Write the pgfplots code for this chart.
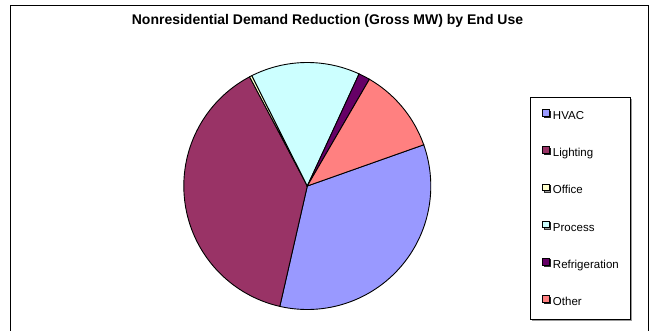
\documentclass[border=0pt]{standalone}
\usepackage{fontspec}
\setmainfont{Liberation Sans}
\usepackage{pgfplots}
\usepackage{pgfplotstable}
\pgfplotsset{compat=1.18}
\usetikzlibrary{shadows}

\definecolor{cHVAC}{HTML}{9999FF}
\definecolor{cLight}{HTML}{993366}
\definecolor{cOffice}{HTML}{FFFFCC}
\definecolor{cProcess}{HTML}{CCFFFF}
\definecolor{cRefrig}{HTML}{660066}
\definecolor{cOther}{HTML}{FF8080}

\pgfplotstableread{
label value
HVAC 34.0
Lighting 38.7
Office 0.33
Process 14.3
Refrigeration 1.5
Other 11.2
}\piedata

\pgfplotstablegetelem{0}{value}\of\piedata\let\vA\pgfplotsretval
\pgfplotstablegetelem{1}{value}\of\piedata\let\vB\pgfplotsretval
\pgfplotstablegetelem{2}{value}\of\piedata\let\vC\pgfplotsretval
\pgfplotstablegetelem{3}{value}\of\piedata\let\vD\pgfplotsretval
\pgfplotstablegetelem{4}{value}\of\piedata\let\vE\pgfplotsretval
\pgfplotstablegetelem{5}{value}\of\piedata\let\vF\pgfplotsretval
\pgfmathsetmacro\tot{\vA+\vB+\vC+\vD+\vE+\vF}
\pgfmathsetmacro\aA{19.5}
\pgfmathsetmacro\aB{\aA-360*\vA/\tot}
\pgfmathsetmacro\aC{\aB-360*\vB/\tot}
\pgfmathsetmacro\aD{\aC-360*\vC/\tot}
\pgfmathsetmacro\aE{\aD-360*\vD/\tot}
\pgfmathsetmacro\aF{\aE-360*\vE/\tot}
\pgfmathsetmacro\aG{\aF-360*\vF/\tot}

\begin{document}
\begin{tikzpicture}
\useasboundingbox (0pt,0pt) rectangle (652pt,330pt);
\fill[white] (0pt,0pt) rectangle (652pt,330pt);
\draw[line width=1pt] (10.5pt,-10pt) rectangle (648pt,324.5pt);
\node[anchor=base, inner sep=0pt, font=\bfseries\fontsize{14}{16}\selectfont] at (327.5pt,305pt) {Nonresidential Demand Reduction (Gross MW) by End Use};
\begin{axis}[
  at={(183.8pt,20.5pt)}, anchor=south west,
  scale only axis, width=247pt, height=247pt,
  xmin=-1, xmax=1, ymin=-1, ymax=1,
  hide axis, clip=false,
  legend cell align=left,
  legend image code/.code={\draw[#1,line width=0.6pt] (0pt,0.5pt) rectangle (6.5pt,7pt);},
  legend style={at={(1.4035,0.859)}, anchor=north west,
    draw=black, line width=0.8pt, fill=white,
    font=\fontsize{11.5}{13}\selectfont,
    inner xsep=11.5pt, inner ysep=11.5pt, row sep=24.4pt, column sep=3.5pt,
    nodes={inner sep=0pt, text height=8.5pt, text depth=2.5pt},
    drop shadow={shadow xshift=1.5pt, shadow yshift=-1.5pt, fill=gray, opacity=0.8}},
]
\fill[cHVAC, draw=black, line width=0.9pt] (0,0) -- plot[domain=\aA:\aB, samples=90, variable=\t] ({cos(\t)},{sin(\t)}) -- cycle;
\fill[cLight, draw=black, line width=0.9pt] (0,0) -- plot[domain=\aB:\aC, samples=90, variable=\t] ({cos(\t)},{sin(\t)}) -- cycle;
\fill[cOffice, draw=black, line width=0.9pt] (0,0) -- plot[domain=\aC:\aD, samples=5, variable=\t] ({cos(\t)},{sin(\t)}) -- cycle;
\fill[cProcess, draw=black, line width=0.9pt] (0,0) -- plot[domain=\aD:\aE, samples=40, variable=\t] ({cos(\t)},{sin(\t)}) -- cycle;
\fill[cRefrig, draw=black, line width=0.9pt] (0,0) -- plot[domain=\aE:\aF, samples=8, variable=\t] ({cos(\t)},{sin(\t)}) -- cycle;
\fill[cOther, draw=black, line width=0.9pt] (0,0) -- plot[domain=\aF:\aG, samples=40, variable=\t] ({cos(\t)},{sin(\t)}) -- cycle;
\addlegendimage{fill=cHVAC, draw=black}\addlegendentry{HVAC}
\addlegendimage{fill=cLight, draw=black}\addlegendentry{Lighting}
\addlegendimage{fill=cOffice, draw=black}\addlegendentry{Office}
\addlegendimage{fill=cProcess, draw=black}\addlegendentry{Process}
\addlegendimage{fill=cRefrig, draw=black}\addlegendentry{Refrigeration}
\addlegendimage{fill=cOther, draw=black}\addlegendentry{Other}
\end{axis}
\end{tikzpicture}
\end{document}
